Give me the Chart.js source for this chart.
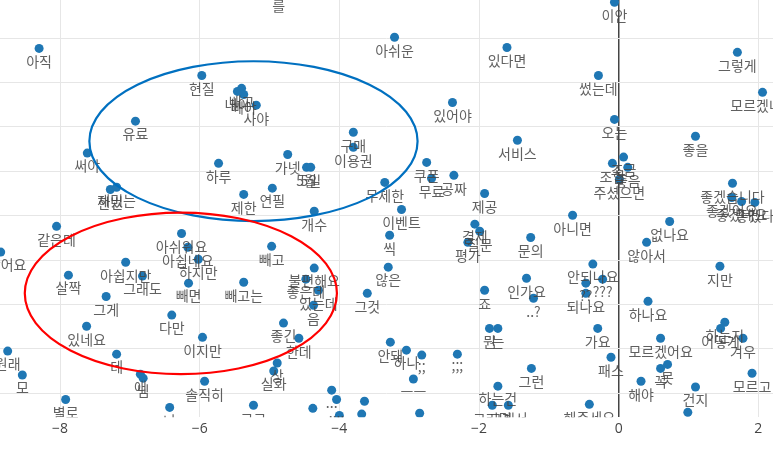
<!DOCTYPE html>
<html lang="ko">
<head>
<meta charset="UTF-8">
<title>단어 임베딩 산점도</title>
<script src="https://cdn.jsdelivr.net/npm/chart.js"></script>
<style>
  html, body { margin: 0; padding: 0; background: #fff; }
  #wrap { width: 773px; height: 453px; }
</style>
</head>
<body>
<div id="wrap"><canvas id="wordChart"></canvas></div>
<script>
// 단어 / 좌표
const words = [
  '아직','현질','유료','써야','를','내야','배고','빼야','사야','구매',
  '이용권','아쉬운','있다면','있어야','서비스','이안','그렇게','썼는데','모르겠네요','오는',
  '좋을','한번','재밌는','같은데','좋았어요','아쉬워요','아쉽네요','하지만','아쉽지만','그래도',
  '살짝','빼면','그게','가넷','하루','5월','5일','제한','연필','개수',
  '무제한','빼고','불편해요','좋은데','있는데','빼고는','음','그것','않은','씩',
  '쿠폰','무료','공짜','제공','이벤트','결제','질문','평가','문의','아니면',
  '인가요','죠','..?','조금','조합','좋음','주셨으면','좋겠습니다','좋겠어요','좋겠네요',
  '좋겠다','없나요','않아서','지만','안되나요','???','??','되나요','하나요','있네요',
  '다만','데','애','님','모','별로','나','이지만','솔직히','원래',
  '좋긴','한데','상','실화','그그','...','....','......','..','.....',
  '...','안돼','하나',';;',';;;','ㅡㅡ','ㅋ','뭔','는','그런',
  '하는건','그러면','그래서','해주세요','가요','패스','모르겠어요','해야','꼭','못',
  '건지','...','하는지','어떻게','겨우','모르고'
];
const xs = [
  -8.30,-5.97,-6.92,-7.61,-4.87,-5.46,-5.40,-5.37,-5.19,-3.80,
  -3.80,-3.21,-1.60,-2.38,-1.45,-0.06,1.70,-0.29,2.06,-0.06,
  1.10,-7.28,-7.19,-8.05,-8.85,-6.26,-6.17,-6.02,-7.06,-6.82,
  -7.88,-6.16,-7.34,-4.74,-5.73,-4.47,-4.41,-5.37,-4.96,-4.36,
  -3.35,-4.97,-4.36,-4.48,-4.30,-5.37,-4.37,-3.60,-3.30,-3.28,
  -2.75,-2.68,-2.36,-1.92,-3.11,-2.06,-1.99,-2.16,-1.26,-0.66,
  -1.32,-1.92,-1.22,0.07,-0.09,0.13,0.01,1.63,1.62,1.76,
  1.95,0.73,0.40,1.45,-0.37,-0.23,-0.47,-0.47,0.42,-7.62,
  -6.40,-7.19,-6.85,-6.81,-8.54,-7.92,-6.43,-5.96,-5.93,-8.75,
  -4.80,-4.58,-4.89,-4.94,-5.23,-4.11,-4.04,-4.38,-4.00,-3.64,
  -3.68,-3.27,-3.04,-2.82,-2.31,-2.94,-2.85,-1.85,-1.73,-1.25,
  -1.73,-1.81,-1.58,-0.42,-0.30,-0.11,0.60,0.32,0.60,0.70,
  1.10,0.99,1.52,1.46,1.78,1.91
];
const ys = [
  7.77,7.16,6.13,5.41,9.03,6.80,6.87,6.73,6.49,5.88,
  5.54,8.02,7.79,6.55,5.70,8.81,7.68,7.16,6.78,6.17,
  5.79,4.59,4.64,3.76,3.18,3.60,3.29,3.02,2.95,2.64,
  2.66,2.48,2.18,5.38,5.18,5.09,5.09,4.48,4.62,4.10,
  4.75,3.31,2.82,2.57,2.32,2.50,1.98,2.25,2.84,3.56,
  5.20,4.84,4.91,4.50,4.14,3.81,3.65,3.40,3.51,4.01,
  2.59,2.32,2.14,5.32,5.18,5.09,4.82,4.73,4.41,4.32,
  4.30,3.87,3.40,2.86,2.91,2.57,2.48,2.25,2.07,1.51,
  1.76,0.88,0.43,0.34,0.41,-0.14,-0.32,1.26,0.27,0.95,
  1.58,1.24,0.68,0.50,-0.27,0.07,-0.14,-0.34,-0.50,-0.18,
  -0.47,1.15,0.97,0.86,0.88,0.32,-0.45,1.46,1.46,0.56,
  0.16,-0.27,-0.27,-0.25,1.46,0.81,1.24,0.27,0.56,0.65,
  0.14,-0.43,1.60,1.46,1.24,0.45
];
const xTicks = [-8, -6, -4, -2, 0, 2];
const yTicks = [0, 1, 2, 3, 4, 5, 6, 7, 8];

// 강조 타원 (데이터 좌표)
const blueEllipse = { cx: -5.23, cy: 5.68, rx: 2.35, ry: 1.80 };
const redEllipse = { cx: -6.27, cy: 2.25, rx: 2.235, ry: 1.82 };

const points = xs.map((x, i) => ({ x: x, y: ys[i] }));

// 점 아래에 단어 쓰기 (그래프 영역 안으로 자름) + 타원 그리기
const wordLabels = {
  id: 'wordLabels',
  afterDatasetsDraw(chart) {
    const ctx = chart.ctx;
    const area = chart.chartArea;
    const meta = chart.getDatasetMeta(0);
    ctx.save();
    ctx.beginPath();
    ctx.rect(area.left, area.top, area.right - area.left, area.bottom - area.top);
    ctx.clip();
    ctx.font = '14px "Noto Sans CJK KR"';
    ctx.fillStyle = 'rgba(68,68,68,0.85)';
    ctx.textAlign = 'center';
    ctx.textBaseline = 'middle';
    meta.data.forEach((pt, i) => {
      ctx.fillText(words[i], pt.x, pt.y + 13);
    });
    ctx.restore();
  },
  afterDraw(chart) {
    const ctx = chart.ctx;
    const sx = chart.scales.x, sy = chart.scales.y;
    [[blueEllipse, '#0070c0'], [redEllipse, '#ff0000']].forEach(([e, col]) => {
      const cx = sx.getPixelForValue(e.cx);
      const cy = sy.getPixelForValue(e.cy);
      const rx = Math.abs(sx.getPixelForValue(e.cx + e.rx) - cx);
      const ry = Math.abs(sy.getPixelForValue(e.cy + e.ry) - cy);
      ctx.save();
      ctx.beginPath();
      ctx.ellipse(cx, cy, rx, ry, 0, 0, Math.PI * 2);
      ctx.strokeStyle = col;
      ctx.lineWidth = 2.2;
      ctx.stroke();
      ctx.restore();
    });
  }
};

new Chart(document.getElementById('wordChart'), {
  type: 'scatter',
  data: {
    datasets: [{
      data: points,
      backgroundColor: '#1f77b4',
      borderWidth: 0,
      pointRadius: 4.5,
      pointHoverRadius: 4.5
    }]
  },
  options: {
    responsive: true,
    maintainAspectRatio: false,
    animation: false,
    layout: { autoPadding: false, padding: { left: 0, right: 0, top: 0, bottom: 13 } },
    plugins: { legend: { display: false }, tooltip: { enabled: false } },
    scales: {
      x: {
        min: -8.86, max: 2.21,
        afterBuildTicks: axis => { axis.ticks = xTicks.map(v => ({ value: v })); },
        grid: {
          drawTicks: false,
          color: ctx => ctx.tick && ctx.tick.value === 0 ? '#444' : '#e6e6e6',
          lineWidth: ctx => ctx.tick && ctx.tick.value === 0 ? 1.5 : 1
        },
        border: { display: false },
        ticks: {
          padding: 3,
          color: '#444',
          font: { size: 14, family: '"Open Sans", "Noto Sans"' },
          callback: v => String(v).replace('-', '\u2212')
        }
      },
      y: {
        min: -0.54, max: 8.86,
        afterBuildTicks: axis => { axis.ticks = yTicks.map(v => ({ value: v })); },
        grid: { drawTicks: false, color: '#e6e6e6' },
        border: { display: false },
        ticks: { display: false }
      }
    }
  },
  plugins: [wordLabels]
});
</script>
</body>
</html>
